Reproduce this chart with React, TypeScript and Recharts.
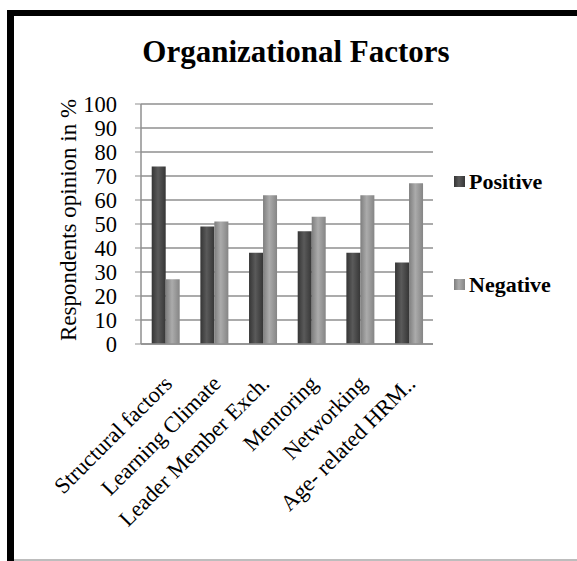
import React from "react";
import { BarChart, Bar, XAxis, YAxis, CartesianGrid } from "recharts";

const categories = [
  "Structural factors",
  "Learning Climate",
  "Leader Member Exch.",
  "Mentoring",
  "Networking",
  "Age- related HRM..",
];
const positiveValues = [74, 49, 38, 47, 38, 34];
const negativeValues = [27, 51, 62, 53, 62, 67];
const seriesNames = ["Positive", "Negative"];
const yTicks = [0, 10, 20, 30, 40, 50, 60, 70, 80, 90, 100];
const title = "Organizational Factors";
const yTitle = "Respondents opinion in %";

const data = categories.map((c, i) => ({
  name: c,
  Positive: positiveValues[i],
  Negative: negativeValues[i],
}));

const FONT = "'Liberation Serif', 'Times New Roman', serif";

const XTick = (props: any) => {
  const { x, y, payload } = props;
  return (
    <g transform={`translate(${x + 8},${y + 33})`}>
      <text
        x={0}
        y={0}
        textAnchor="end"
        transform="rotate(-45)"
        fontFamily={FONT}
        fontSize={22.5}
        fill="#000"
      >
        {payload.value}
      </text>
    </g>
  );
};

const YTick = (props: any) => {
  const { x, y, payload } = props;
  return (
    <text
      x={x}
      y={y}
      dy={8}
      textAnchor="end"
      fontFamily={FONT}
      fontSize={22.5}
      fill="#000"
    >
      {payload.value}
    </text>
  );
};

const YLabel = (props: any) => {
  const { viewBox } = props;
  const cy = viewBox.y + viewBox.height / 2 - 4;
  const cx = 76;
  return (
    <text
      x={cx}
      y={cy}
      textAnchor="middle"
      transform={`rotate(-90, ${cx}, ${cy})`}
      fontFamily={FONT}
      fontSize={23}
      fill="#000"
    >
      {yTitle}
    </text>
  );
};

export default function App() {
  return (
    <div
      style={{
        position: "absolute",
        left: 0,
        top: 0,
        width: 577,
        height: 561,
        background: "#fff",
        overflow: "hidden",
        fontFamily: FONT,
      }}
    >
      <div
        style={{
          position: "absolute",
          left: 7,
          top: 10,
          width: 600,
          height: 560,
          borderLeft: "7px solid #000",
          borderTop: "6px solid #000",
        }}
      />
      <div
        style={{
          position: "absolute",
          left: 14,
          top: 559,
          width: 580,
          height: 2,
          background: "#bdbdbd",
        }}
      />
      <div style={{ position: "absolute", left: 0, top: 0 }}>
        <BarChart
          width={577}
          height={561}
          data={data}
          margin={{ top: 104, right: 144, left: 0, bottom: 0 }}
          barCategoryGap="22%"
          barGap={0}
        >
          <defs>
            <linearGradient id="gPos" x1="0" y1="0" x2="1" y2="0">
              <stop offset="0%" stopColor="#353535" />
              <stop offset="45%" stopColor="#5a5a5a" />
              <stop offset="100%" stopColor="#363636" />
            </linearGradient>
            <linearGradient id="gNeg" x1="0" y1="0" x2="1" y2="0">
              <stop offset="0%" stopColor="#7e7e7e" />
              <stop offset="45%" stopColor="#ababab" />
              <stop offset="100%" stopColor="#858585" />
            </linearGradient>
          </defs>
          <text
            x={296}
            y={62}
            textAnchor="middle"
            fontFamily={FONT}
            fontSize={31}
            fontWeight="bold"
            fill="#000"
          >
            {title}
          </text>
          <CartesianGrid vertical={false} stroke="#8f8f8f" strokeWidth={1.5} />
          <XAxis
            dataKey="name"
            height={217}
            interval={0}
            tick={<XTick />}
            tickLine={false}
            axisLine={{ stroke: "#8f8f8f", strokeWidth: 1.5 }}
          />
          <YAxis
            width={141}
            domain={[0, 100]}
            ticks={yTicks}
            interval={0}
            tickSize={6}
            tickMargin={18}
            tickLine={{ stroke: "#8f8f8f" }}
            axisLine={{ stroke: "#8f8f8f", strokeWidth: 1.5 }}
            tick={<YTick />}
            label={<YLabel />}
          />
          <Bar dataKey="Positive" fill="url(#gPos)" isAnimationActive={false} />
          <Bar dataKey="Negative" fill="url(#gNeg)" isAnimationActive={false} />
          {seriesNames.map((s, i) => (
            <g key={s}>
              <rect
                x={454}
                y={176 + i * 103}
                width={11}
                height={11}
                fill={i === 0 ? "url(#gPos)" : "url(#gNeg)"}
              />
              <text
                x={469}
                y={189 + i * 103}
                fontFamily={FONT}
                fontSize={22}
                fontWeight="bold"
                fill="#000"
              >
                {s}
              </text>
            </g>
          ))}
        </BarChart>
      </div>
    </div>
  );
}
